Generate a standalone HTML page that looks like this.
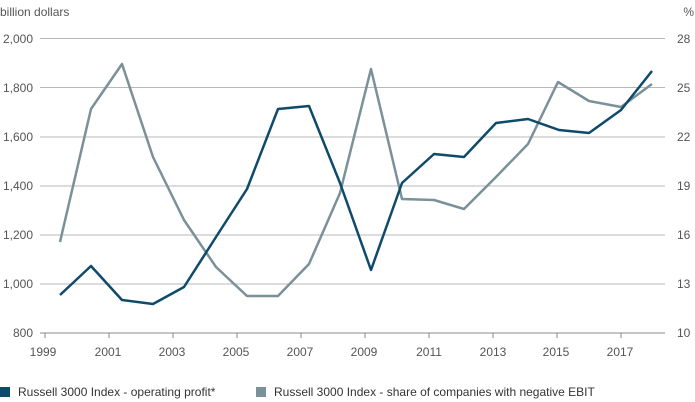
<!DOCTYPE html>
<html><head><meta charset="utf-8"><style>
body{margin:0;background:#fff;}
svg{display:block;font-family:"Liberation Sans",sans-serif;}
</style></head><body>
<svg width="695" height="402" viewBox="0 0 695 402" xmlns="http://www.w3.org/2000/svg">
<g stroke="#b8b8b8" stroke-width="1">
<line x1="40" y1="38.5" x2="665" y2="38.5"/><line x1="40" y1="87.5" x2="665" y2="87.5"/>
<line x1="40" y1="137" x2="665" y2="137"/><line x1="40" y1="186" x2="665" y2="186"/>
<line x1="40" y1="235" x2="665" y2="235"/><line x1="40" y1="284" x2="665" y2="284"/>
</g>
<line x1="40" y1="333" x2="665" y2="333" stroke="#888" stroke-width="1"/>
<g stroke="#888" stroke-width="1">
<line x1="45" y1="333" x2="45" y2="338"/><line x1="109" y1="333" x2="109" y2="338"/>
<line x1="173" y1="333" x2="173" y2="338"/><line x1="237" y1="333" x2="237" y2="338"/>
<line x1="301" y1="333" x2="301" y2="338"/><line x1="365" y1="333" x2="365" y2="338"/>
<line x1="429" y1="333" x2="429" y2="338"/><line x1="493" y1="333" x2="493" y2="338"/>
<line x1="557" y1="333" x2="557" y2="338"/><line x1="621" y1="333" x2="621" y2="338"/>
</g>
<g font-size="12" fill="#555" text-anchor="end">
<text x="33" y="43">2,000</text><text x="33" y="92">1,800</text><text x="33" y="141">1,600</text>
<text x="33" y="190">1,400</text><text x="33" y="239">1,200</text><text x="33" y="288">1,000</text>
<text x="33" y="337">800</text>
</g>
<g font-size="12" fill="#555" text-anchor="start">
<text x="677" y="43">28</text><text x="677" y="92">25</text><text x="677" y="141">22</text>
<text x="677" y="190">19</text><text x="677" y="239">16</text><text x="677" y="288">13</text>
<text x="677" y="337">10</text>
</g>
<text x="0" y="16" font-size="12" fill="#555">billion dollars</text>
<text x="694" y="16" font-size="12" fill="#555" text-anchor="end">%</text>
<g font-size="12" fill="#555" text-anchor="middle">
<text x="43" y="356">1999</text><text x="108" y="356">2001</text><text x="172" y="356">2003</text>
<text x="236" y="356">2005</text><text x="300" y="356">2007</text><text x="364" y="356">2009</text>
<text x="429" y="356">2011</text><text x="493" y="356">2013</text><text x="556" y="356">2015</text>
<text x="620" y="356">2017</text>
</g>
<polyline fill="none" stroke="#7a9199" stroke-width="2.5" stroke-linejoin="round" points="60,242 91,109 122,64 153,157 184,220 216,267 247,296 278,296 309,264 340,193 371,69 402,199 434,200 464,209 496,177 528,144 558,82 589,101 621,107 652,84"/>
<polyline fill="none" stroke="#0d4a6b" stroke-width="2.5" stroke-linejoin="round" points="60,295 91,266 122,300 153,304 184,287 216,237 247,189 278,109 309,106 340,183 371,270 402,183 434,154 464,157 496,123 528,119 559,130 589,133 621,110 652,71"/>
<rect x="0" y="387" width="10" height="10" fill="#0d4a6b"/>
<text x="18" y="396" font-size="12" fill="#333">Russell 3000 Index - operating profit*</text>
<rect x="256" y="387" width="10" height="10" fill="#7a9199"/>
<text x="274" y="396" font-size="12" fill="#333">Russell 3000 Index  - share of companies with negative EBIT</text>
</svg>
</body></html>
